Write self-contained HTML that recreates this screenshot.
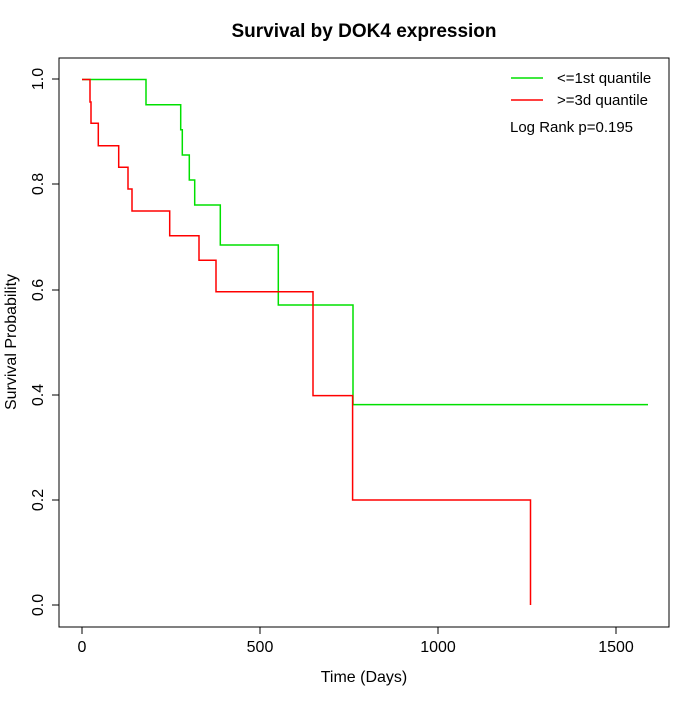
<!DOCTYPE html>
<html><head><meta charset="utf-8"><style>body{margin:0;background:#fff}</style></head><body>
<svg width="700" height="700" xmlns="http://www.w3.org/2000/svg" font-family="Liberation Sans, sans-serif">
<rect width="700" height="700" fill="#fff"/>
<text x="364" y="37" font-size="19" font-weight="bold" text-anchor="middle">Survival by DOK4 expression</text>
<rect x="59" y="58" width="610" height="569" fill="none" stroke="#000" stroke-width="1"/>
<g stroke="#000" stroke-width="1">
<line x1="82" y1="627" x2="616" y2="627"/>
<line x1="82" y1="627" x2="82" y2="634"/><line x1="260" y1="627" x2="260" y2="634"/><line x1="438" y1="627" x2="438" y2="634"/><line x1="616" y1="627" x2="616" y2="634"/>
<line x1="59" y1="79" x2="59" y2="605"/>
<line x1="52" y1="605" x2="59" y2="605"/><line x1="52" y1="500" x2="59" y2="500"/><line x1="52" y1="395" x2="59" y2="395"/><line x1="52" y1="290" x2="59" y2="290"/><line x1="52" y1="184" x2="59" y2="184"/><line x1="52" y1="79" x2="59" y2="79"/>
</g>
<g font-size="16" text-anchor="middle">
<text x="82" y="652">0</text><text x="260" y="652">500</text><text x="438" y="652">1000</text><text x="616" y="652">1500</text>
<text x="364" y="682">Time (Days)</text>
<g transform="rotate(-90)">
<text x="-605" y="43">0.0</text><text x="-500" y="43">0.2</text><text x="-395" y="43">0.4</text><text x="-290" y="43">0.6</text><text x="-184" y="43">0.8</text><text x="-79" y="43">1.0</text>
<text x="-342" y="16">Survival Probability</text>
</g></g>
<polyline fill="none" stroke="#00e000" stroke-width="1.5" points="82,79.5 146,79.5 146,104.7 180.7,104.7 180.7,129.7 182.3,129.7 182.3,155 189.3,155 189.3,180 194.7,180 194.7,205 220.3,205 220.3,245 278.3,245 278.3,305 353,305 353,404.6 648,404.6"/>
<polyline fill="none" stroke="#ff0000" stroke-width="1.5" points="82,79.5 90,79.5 90,102 91,102 91,123.3 98.3,123.3 98.3,145.7 118.7,145.7 118.7,167.3 128,167.3 128,189 132,189 132,211 169.7,211 169.7,235.7 199,235.7 199,260.3 216,260.3 216,291.7 313,291.7 313,395.6 352.6,395.6 352.6,500 530.5,500 530.5,605"/>
<line x1="511" y1="78" x2="543" y2="78" stroke="#00e000" stroke-width="1.5"/>
<line x1="511" y1="100" x2="543" y2="100" stroke="#ff0000" stroke-width="1.5"/>
<g font-size="15"><text x="557" y="83">&lt;=1st quantile</text><text x="557" y="105">&gt;=3d quantile</text><text x="510" y="132">Log Rank p=0.195</text></g>
</svg>
</body></html>
